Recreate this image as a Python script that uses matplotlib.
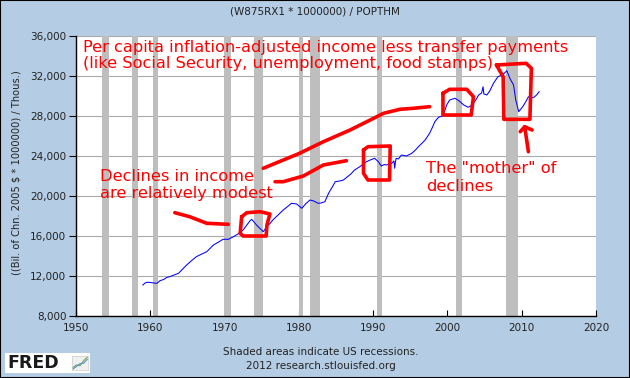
import matplotlib
matplotlib.use("Agg")
import matplotlib.pyplot as plt
from matplotlib.patches import Rectangle
from matplotlib.ticker import FuncFormatter

# ---- data ----
years = [1959.0, 1959.3, 1959.6, 1960.0, 1960.5, 1960.9, 1961.3, 1961.8, 1962.2, 1962.7,
         1963.2, 1963.8, 1964.3, 1964.9, 1965.5, 1966.2, 1966.8, 1967.6, 1968.1, 1968.5,
         1969.2, 1969.8, 1970.5, 1971.2, 1971.8, 1972.5, 1973.0, 1973.4, 1973.65, 1973.9,
         1974.3, 1974.7, 1975.2, 1975.7, 1976.1, 1976.5, 1977.2, 1977.9, 1978.5, 1979.0,
         1979.7, 1980.1, 1980.4, 1980.9, 1981.5, 1982.0, 1982.6, 1983.0, 1983.5, 1984.0,
         1984.5, 1984.9, 1985.5, 1986.0, 1986.5, 1987.0, 1987.5, 1988.2, 1989.1, 1989.6,
         1990.2, 1990.7, 1991.1, 1991.5, 1991.8, 1992.5, 1992.8, 1992.9, 1993.0, 1993.1,
         1993.4, 1993.8, 1994.5, 1995.2, 1995.7, 1996.1, 1996.6, 1997.0, 1997.6, 1998.0,
         1998.3, 1998.8, 1999.4, 1999.9, 2000.3, 2000.7, 2001.0, 2001.4, 2001.7, 2002.2,
         2002.8, 2003.1, 2003.5, 2003.9, 2004.2, 2004.6, 2004.8, 2004.9, 2005.3, 2005.7,
         2006.2, 2006.8, 2007.3, 2007.7, 2008.0, 2008.4, 2008.9, 2009.2, 2009.6, 2010.2,
         2010.6, 2010.9, 2011.3, 2011.7, 2012.0, 2012.35]
income = [11100, 11300, 11380, 11350, 11300, 11270, 11530, 11650, 11850, 11950,
          12100, 12270, 12650, 13100, 13500, 13930, 14150, 14430, 14800, 15100,
          15400, 15670, 15670, 15930, 16200, 16600, 17100, 17500, 17670, 17450,
          17100, 16800, 16430, 16930, 17250, 17600, 18100, 18600, 18950, 19270,
          19200, 18950, 18770, 19200, 19600, 19500, 19270, 19300, 19430, 20270,
          20900, 21430, 21500, 21600, 21900, 22200, 22600, 22930, 23430, 23600,
          23770, 23430, 23000, 23150, 23100, 23270, 23500, 22770, 23400, 23770,
          23700, 24100, 24000, 24270, 24600, 24930, 25300, 25600, 26270, 26900,
          27430, 27870, 28030, 29100, 29600, 29700, 29770, 29600, 29430, 29100,
          28870, 29000, 29270, 29700, 30100, 30300, 30930, 30200, 30100, 30500,
          31270, 31930, 32100, 32300, 32530, 31770, 31100, 29600, 28430, 29000,
          29500, 29930, 29800, 29900, 30100, 30430]

recessions = [(1953.5, 1954.4), (1957.6, 1958.3), (1960.3, 1961.1), (1969.9, 1970.9),
              (1973.9, 1975.2), (1980.0, 1980.5), (1981.5, 1982.9), (1990.5, 1991.2),
              (2001.2, 2001.9), (2007.9, 2009.5)]

x_ticks = [1950, 1960, 1970, 1980, 1990, 2000, 2010, 2020]
y_ticks = [8000, 12000, 16000, 20000, 24000, 28000, 32000, 36000]

# hand-drawn red marks (year, value)
strokes = [
    ([1963.3, 1965.3, 1967.6, 1970.5], [18330, 17930, 17270, 17170]),
    ([1972.3, 1973.0, 1974.8, 1976.1, 1975.7, 1975.6, 1972.5, 1972.1, 1972.3],
     [17930, 18330, 18430, 18200, 17100, 16000, 16000, 16270, 17930]),
    ([1975.2, 1980.1, 1983.3, 1986.9, 1989.6, 1991.4, 1993.6, 1995.4, 1997.6],
     [22770, 24270, 25430, 26600, 27600, 28270, 28670, 28770, 28930]),
    ([1976.8, 1977.9, 1980.6, 1983.3, 1986.4], [21430, 21430, 22000, 23100, 23530]),
    ([1988.7, 1989.3, 1992.3, 1992.2, 1989.3, 1988.7, 1988.7],
     [24600, 24930, 25000, 21600, 21600, 22270, 24600]),
    ([1999.4, 2000.3, 2002.6, 2003.5, 2003.2, 1999.4, 1999.4],
     [30270, 30670, 30670, 29930, 28100, 28100, 30270]),
    ([2006.6, 2010.6, 2011.3, 2011.1, 2007.6, 2007.5, 2006.6],
     [33100, 33270, 32770, 27670, 27670, 31930, 33100]),
    ([2010.9, 2010.4], [24430, 26930]),
    ([2009.8, 2010.4, 2011.4], [26430, 26930, 26600]),
]

bg = "#b4cde4"
fig = plt.figure(figsize=(6.3, 3.78), dpi=100, facecolor=bg)
W, H = 630, 378
ax = fig.add_axes([76 / W, (H - 316) / H, (596 - 76) / W, (316 - 36) / H])
ax.set_facecolor("white")

for a, b in recessions:
    ax.axvspan(a, b, color="#bebebe", lw=0, zorder=1)

ax.set_xlim(1950, 2020)
ax.set_ylim(8000, 36000)
ax.set_yticks(y_ticks)
ax.set_xticks(x_ticks)
ax.yaxis.set_major_formatter(FuncFormatter(lambda v, p: f"{int(v):,}"))
ax.grid(axis="y", color="#aaaaaa", lw=0.8, zorder=0)
ax.set_axisbelow(True)
ax.tick_params(axis="y", direction="out", length=5, width=0.8, labelsize=7.5,
               labelcolor="#222222", pad=2)
ax.tick_params(axis="x", direction="in", length=4, width=0.8, labelsize=7.5,
               labelcolor="#222222", pad=5)
for s in ["top", "right"]:
    ax.spines[s].set_visible(False)
for s in ["left", "bottom"]:
    ax.spines[s].set_color("black")
    ax.spines[s].set_linewidth(1.0)

ax.plot(years, income, color="#0000ff", lw=0.75, zorder=3)

for xs, ys in strokes:
    ax.plot(xs, ys, color="#ff0000", lw=2.6, solid_capstyle="round",
            solid_joinstyle="round", zorder=4)

red = "#ff0000"
fs = 11.7
ax.text(1950.9, 35650, "Per capita inflation-adjusted income less transfer payments\n"
        "(like Social Security, unemployment, food stamps)",
        color=red, fontsize=fs, va="top", ha="left", linespacing=1.1, zorder=5)
ax.text(1953.2, 22750, "Declines in income\nare relatively modest",
        color=red, fontsize=fs, va="top", ha="left", linespacing=1.2, zorder=5)
ax.text(1997.1, 23550, "The \"mother\" of\ndeclines",
        color=red, fontsize=fs, va="top", ha="left", linespacing=1.25, zorder=5)

fig.text(315 / W, 1 - 12 / H, "(W875RX1 * 1000000) / POPTHM", ha="center", va="center",
         fontsize=7.5, color="#222222")
fig.text(17 / W, 1 - 173 / H, "((Bil. of Chn. 2005 $ * 1000000) / Thous.)", rotation=90,
         ha="center", va="center", fontsize=7.1, color="#222222")
fig.text(321 / W, 1 - 352 / H, "Shaded areas indicate US recessions.", ha="center",
         va="center", fontsize=7.5, color="#222222")
fig.text(321 / W, 1 - 366 / H, "2012 research.stlouisfed.org", ha="center",
         va="center", fontsize=7.5, color="#222222")

# FRED logo
fig.patches.append(Rectangle((5 / W, 1 - 373 / H), 85 / W, 20 / H, transform=fig.transFigure,
                             facecolor="white", edgecolor="none", zorder=1))
fig.text(7 / W, 1 - 363.5 / H, "FRED", fontsize=12.5, fontweight="heavy", color="#1a1a1a",
         ha="left", va="center", family="DejaVu Sans")
icon = fig.add_axes([72 / W, 1 - 370 / H, 16 / W, 14 / H], zorder=3)
icon.set_facecolor("#f0f0f0")
icon.plot([0, 1, 2, 3, 4], [0.5, 1.2, 1.0, 2.2, 3.0], color="#6aa84f", lw=0.8)
icon.plot([0, 1, 2, 3, 4], [0.2, 0.8, 1.5, 1.6, 2.5], color="#5b8fd0", lw=0.8)
icon.set_xlim(-0.2, 4.2)
icon.set_ylim(0, 3.3)
icon.set_xticks([])
icon.set_yticks([])
for s in icon.spines.values():
    s.set_color("#cccccc")
    s.set_linewidth(0.5)

fig.patches.append(Rectangle((0, 0), 1, 1, transform=fig.transFigure, facecolor="none",
                             edgecolor="black", lw=1.5))

fig.savefig("out.png", dpi=100, facecolor=bg)
